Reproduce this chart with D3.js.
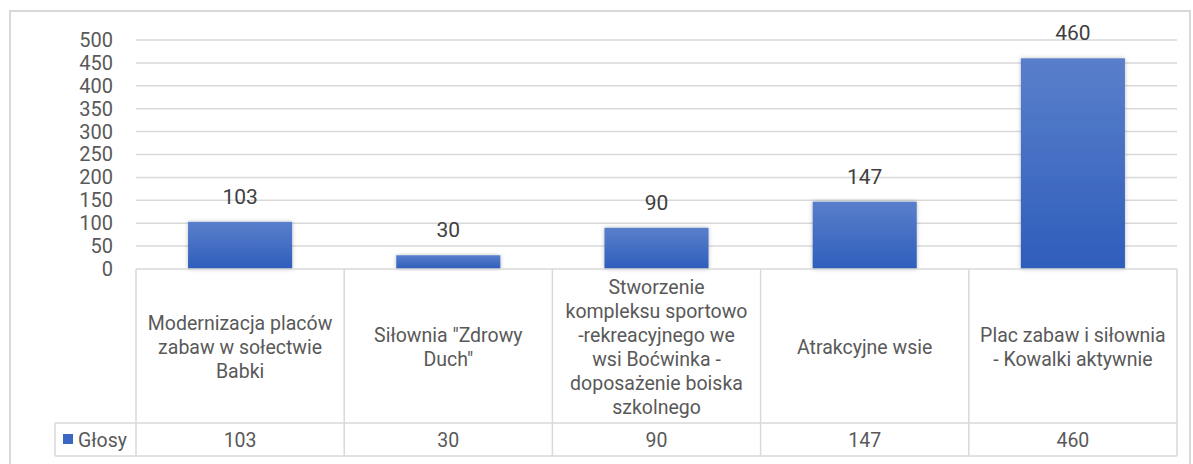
<!DOCTYPE html>
<html>
<head>
<meta charset="utf-8">
<script src="https://cdnjs.cloudflare.com/ajax/libs/d3/7.8.5/d3.min.js"></script>
<style>
  body { margin: 0; background: #fff; }
  svg { display: block; font-family: Roboto, sans-serif; }
</style>
</head>
<body>
<div id="chart"></div>
<script>
// Data
const categories = [
    ['Modernizacja placów', 'zabaw w sołectwie', 'Babki'],
    ['Siłownia "Zdrowy', 'Duch"'],
    ['Stworzenie', 'kompleksu sportowo', '-rekreacyjnego we', 'wsi Boćwinka -', 'doposażenie boiska', 'szkolnego'],
    ['Atrakcyjne wsie'],
    ['Plac zabaw i siłownia', '- Kowalki aktywnie']
];
const seriesName = 'Głosy';
const votes = [103, 30, 90, 147, 460];
const yTicks = [0, 50, 100, 150, 200, 250, 300, 350, 400, 450, 500];

const W = 1193, H = 464;
const plot = { left: 136, right: 1177, top: 40, bottom: 269 };
const tableRow1 = 423, tableRow2 = 456, legendLeft = 55;
const gridColor = '#d9d9d9';
const textColor = '#595959';

const svg = d3.select('#chart').append('svg')
    .attr('width', W)
    .attr('height', H);

// Gradient for bars
const defs = svg.append('defs');
const grad = defs.append('linearGradient')
    .attr('id', 'barGrad')
    .attr('x1', 0).attr('y1', 0).attr('x2', 0).attr('y2', 1);
grad.append('stop').attr('offset', '0%').attr('stop-color', '#5a7fcb');
grad.append('stop').attr('offset', '100%').attr('stop-color', '#2e5ebb');

const shadow = defs.append('filter').attr('id', 'shadow')
    .attr('x', '-10%').attr('y', '-10%').attr('width', '120%').attr('height', '120%');
shadow.append('feDropShadow')
    .attr('dx', 0).attr('dy', 0).attr('stdDeviation', 2)
    .attr('flood-color', '#000').attr('flood-opacity', 0.25);

// Outer frame
svg.append('rect')
    .attr('x', 10).attr('y', 11)
    .attr('width', 1180).attr('height', 460)
    .attr('fill', 'none')
    .attr('stroke', gridColor)
    .attr('stroke-width', 2);

// Scales
const x = d3.scaleBand()
    .domain(d3.range(votes.length))
    .range([plot.left, plot.right])
    .paddingInner(0)
    .paddingOuter(0);

const y = d3.scaleLinear()
    .domain([0, 500])
    .range([plot.bottom, plot.top]);

// Gridlines
svg.append('g')
    .selectAll('line')
    .data(yTicks.filter(d => d > 0))
    .join('line')
    .attr('x1', plot.left).attr('x2', plot.right)
    .attr('y1', d => y(d)).attr('y2', d => y(d))
    .attr('stroke', gridColor)
    .attr('stroke-width', 1.5);

// Y axis
const yAxis = svg.append('g')
    .attr('transform', `translate(${plot.left - 23},0)`)
    .call(d3.axisLeft(y).tickValues(yTicks).tickSize(0).tickPadding(0));
yAxis.select('.domain').remove();
yAxis.selectAll('text')
    .attr('fill', textColor)
    .style('font-size', '20px')
    .style('font-family', 'Roboto, sans-serif');

// Bars
const barW = x.bandwidth() * 0.5;
svg.append('g')
    .selectAll('rect')
    .data(votes)
    .join('rect')
    .attr('x', (d, i) => x(i) + (x.bandwidth() - barW) / 2)
    .attr('y', d => y(d))
    .attr('width', barW)
    .attr('height', d => plot.bottom - y(d))
    .attr('fill', 'url(#barGrad)')
    .attr('filter', 'url(#shadow)');

// Data labels
svg.append('g')
    .selectAll('text')
    .data(votes)
    .join('text')
    .attr('x', (d, i) => x(i) + x.bandwidth() / 2)
    .attr('y', d => y(d) - 18)
    .attr('text-anchor', 'middle')
    .attr('fill', '#404040')
    .style('font-size', '21px')
    .text(d => d);

// Data table
const table = svg.append('g')
    .attr('stroke', gridColor)
    .attr('stroke-width', 1.5);

// horizontal lines
table.append('line')
    .attr('x1', plot.left).attr('x2', plot.right)
    .attr('y1', plot.bottom).attr('y2', plot.bottom);
table.append('line')
    .attr('x1', legendLeft).attr('x2', plot.right)
    .attr('y1', tableRow1).attr('y2', tableRow1);
table.append('line')
    .attr('x1', legendLeft).attr('x2', plot.right)
    .attr('y1', tableRow2).attr('y2', tableRow2);
table.append('line')
    .attr('x1', legendLeft).attr('x2', legendLeft)
    .attr('y1', tableRow1).attr('y2', tableRow2);

// vertical lines
table.selectAll('line.v')
    .data(d3.range(votes.length + 1))
    .join('line')
    .attr('class', 'v')
    .attr('x1', i => i < votes.length ? x(i) : plot.right)
    .attr('x2', i => i < votes.length ? x(i) : plot.right)
    .attr('y1', plot.bottom)
    .attr('y2', tableRow2);

// category labels
const lineH = 24;
const catG = svg.append('g')
    .selectAll('text')
    .data(categories)
    .join('text')
    .attr('text-anchor', 'middle')
    .attr('fill', textColor)
    .style('font-size', '19.5px');
catG.each(function (lines, i) {
    const cx = x(i) + x.bandwidth() / 2;
    const cy = 347;
    const startY = cy - (lines.length - 1) * lineH / 2 + 7;
    d3.select(this).selectAll('tspan')
        .data(lines)
        .join('tspan')
        .attr('x', cx)
        .attr('y', (l, j) => startY + j * lineH)
        .text(l => l);
});

// value row
svg.append('g')
    .selectAll('text')
    .data(votes)
    .join('text')
    .attr('x', (d, i) => x(i) + x.bandwidth() / 2)
    .attr('y', (tableRow1 + tableRow2) / 2 + 7)
    .attr('text-anchor', 'middle')
    .attr('fill', textColor)
    .style('font-size', '19.5px')
    .text(d => d);

// legend key
svg.append('rect')
    .attr('x', 63).attr('y', 434)
    .attr('width', 10).attr('height', 10)
    .attr('fill', '#3a67c4');
svg.append('text')
    .attr('x', 78)
    .attr('y', (tableRow1 + tableRow2) / 2 + 7)
    .attr('fill', textColor)
    .style('font-size', '19.5px')
    .text(seriesName);
</script>
</body>
</html>
